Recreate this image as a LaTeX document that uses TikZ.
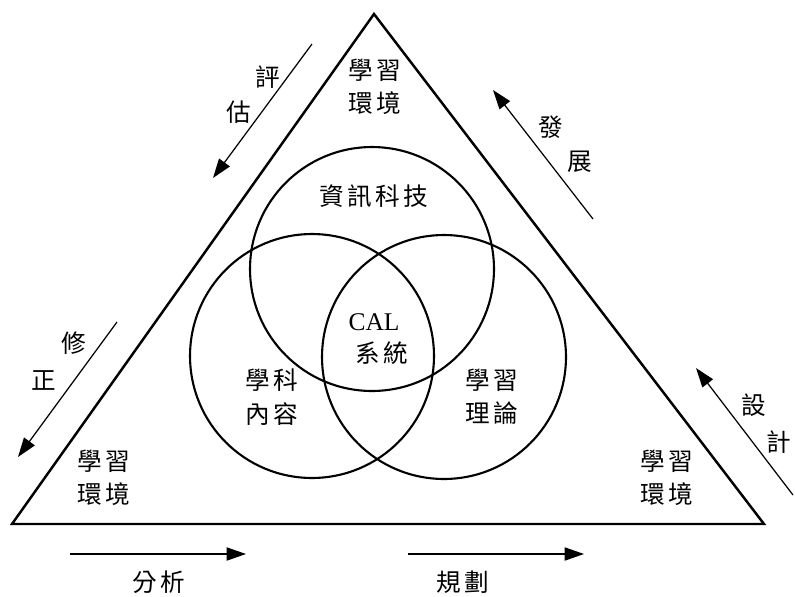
\documentclass[tikz,border=0pt]{standalone}
\usepackage{fontspec}
\setmainfont{Liberation Serif}
\newfontfamily\cjk[LetterSpace=14]{Noto Sans CJK TC}
\usetikzlibrary{arrows.meta}
\begin{document}
\begin{tikzpicture}[x=0.02cm,y=-0.02cm,
  lbl/.style={font=\cjk\fontsize{14pt}{19pt}\selectfont, align=center, inner sep=0pt},
  tri/.style={line width=1.4pt, line join=miter},
  circ/.style={line width=1.2pt},
  flow/.style={line width=0.7pt, -{Triangle[length=11pt,width=7.5pt]}}]
\useasboundingbox (0,0) rectangle (795,596);
% triangle
\coordinate (A) at (374,14);
\coordinate (B) at (12,524);
\coordinate (C) at (764,524);
\draw[tri] (A) -- (B) -- (C) -- cycle;
% circles
\node[circ, draw, circle, minimum size=4.88cm] (top) at (372,269) {};
\node[circ, draw, circle, minimum size=4.88cm] (left) at (312,356) {};
\node[circ, draw, circle, minimum size=4.88cm] (right) at (444,357) {};
% texts
\node[lbl] (t1) at (375,87) {學習\\環境};
\node[lbl] (t2) at (104,478) {學習\\環境};
\node[lbl] (t3) at (667,478) {學習\\環境};
\node[lbl] (it) at (374,196) {資訊科技};
\node[lbl] (sub) at (272,397) {學科\\內容};
\node[lbl] (th) at (492,397) {學習\\理論};
\node[inner sep=0pt, font=\fontsize{14.5pt}{17pt}\selectfont] (cal) at (374,322) {CAL};
\node[lbl] (sys) at (382,353) {系統};
% side arrows
\coordinate (e1) at (312,44); \coordinate (e2) at (213,178);
\draw[flow] (e1) -- (e2);
\node[lbl] (ping) at (268,77) {評};
\node[lbl] (gu) at (239,112) {估};
\coordinate (d1) at (593,219); \coordinate (d2) at (493,90);
\draw[flow] (d1) -- (d2);
\node[lbl] (fa) at (551,127) {發};
\node[lbl] (zhan) at (580,162) {展};
\coordinate (x1) at (117,322); \coordinate (x2) at (18,457);
\draw[flow] (x1) -- (x2);
\node[lbl] (xiu) at (74,343) {修};
\node[lbl] (zheng) at (44,380) {正};
\coordinate (s1) at (793,495); \coordinate (s2) at (696,368);
\draw[flow] (s1) -- (s2);
\node[lbl] (she) at (754,405) {設};
\node[lbl] (ji) at (779,442) {計};
% bottom arrows
\coordinate (a1) at (70,554); \coordinate (a2) at (246,554);
\draw[flow] (a1) -- (a2);
\node[lbl] (fx) at (159,582) {分析};
\coordinate (b1) at (408,554); \coordinate (b2) at (584,554);
\draw[flow] (b1) -- (b2);
\node[lbl] (gh) at (463,582) {規劃};
\end{tikzpicture}
\end{document}
